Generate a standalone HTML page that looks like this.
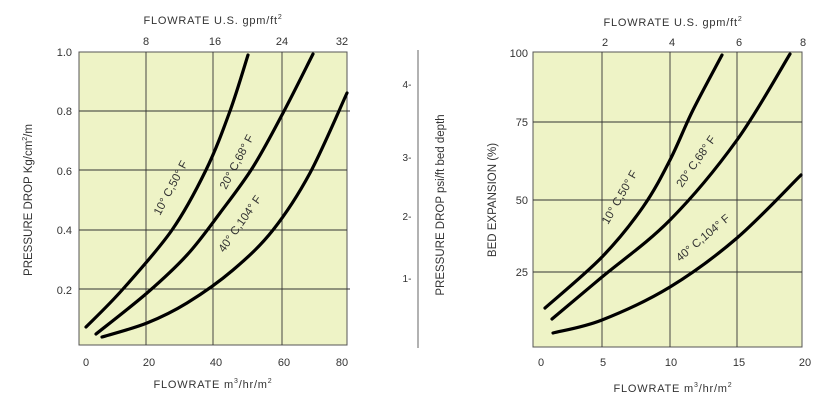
<!DOCTYPE html>
<html><head><meta charset="utf-8"><style>
html,body{margin:0;padding:0;background:#fff;}
svg{display:block;font-family:"Liberation Sans",sans-serif;}
</style></head><body>
<svg width="832" height="409" viewBox="0 0 832 409" xmlns="http://www.w3.org/2000/svg">
<g fill="#333" font-size="11">
<!-- LEFT -->
<rect x="79" y="52" width="268" height="293" fill="#eef3c6" stroke="#555" stroke-width="1"/>
<g stroke="#333" stroke-width="0.9">
<line x1="146" y1="52" x2="146" y2="345"/><line x1="213" y1="52" x2="213" y2="345"/><line x1="282" y1="52" x2="282" y2="345"/>
<line x1="79" y1="111" x2="350" y2="111"/><line x1="79" y1="170" x2="347" y2="170"/><line x1="79" y1="230" x2="347" y2="230"/><line x1="79" y1="289" x2="350" y2="289"/>
</g>
<g fill="none" stroke="#000" stroke-width="3.2" stroke-linecap="round">
<path d="M86,327 C92.2,320.7 108.7,305.2 123,289 C137.3,272.8 158.2,249.8 172,230 C185.8,210.2 196.3,189.8 206,170 C215.7,150.2 223,130.2 230,111 C237,91.8 245,64.3 248,55"/>
<path d="M96,334 C104.5,327.2 131.8,306.2 147,293 C162.2,279.8 174.8,268.3 187,255 C199.2,241.7 209,227.7 220,213 C231,198.3 242.5,183.7 253,167 C263.5,150.3 273,131.8 283,113 C293,94.2 308,63.8 313,54"/>
<path d="M102,337 C109.5,334.7 132.8,328.7 147,323 C161.2,317.3 172.7,311.8 187,303 C201.3,294.2 218.7,282.2 233,270 C247.3,257.8 260.2,246.2 273,230 C285.8,213.8 297.7,195.8 310,173 C322.3,150.2 340.8,106.3 347,93"/>
</g>
<text x="213" y="24" text-anchor="middle" letter-spacing="0.8">FLOWRATE U.S. gpm/ft<tspan font-size="7" dy="-5">2</tspan></text>
<g text-anchor="middle"><text x="146" y="45">8</text><text x="215" y="45">16</text><text x="282" y="45">24</text><text x="342" y="45">32</text>
<text x="86" y="366">0</text><text x="149" y="366">20</text><text x="216" y="366">40</text><text x="284" y="366">60</text><text x="342" y="366">80</text></g>
<text x="213" y="388" text-anchor="middle" letter-spacing="0.8">FLOWRATE m<tspan font-size="7" dy="-5">3</tspan><tspan dy="5">/hr/m</tspan><tspan font-size="7" dy="-5">2</tspan></text>
<g text-anchor="end"><text x="72" y="56">1.0</text><text x="72" y="115">0.8</text><text x="72" y="175">0.6</text><text x="72" y="234">0.4</text><text x="72" y="294">0.2</text></g>
<text transform="translate(32,200) rotate(-90)" text-anchor="middle" font-size="11.5">PRESSURE DROP Kg/cm<tspan font-size="7" dy="-5">2</tspan><tspan dy="5">/m</tspan></text>
<text transform="translate(160,216) rotate(-62)" font-size="11.5">10° C,50° F</text>
<text transform="translate(226,190) rotate(-62)" font-size="11.5">20° C,68° F</text>
<text transform="translate(224,253) rotate(-55)" font-size="11.5">40° C,104° F</text>
<!-- MIDDLE -->
<line x1="418" y1="50" x2="418" y2="348" stroke="#666" stroke-width="1"/>
<g text-anchor="middle" font-size="10"><text x="407" y="88">4-</text><text x="407" y="161">3-</text><text x="407" y="220">2-</text><text x="407" y="282">1-</text></g>
<text transform="translate(444,205) rotate(-90)" text-anchor="middle" font-size="11.5">PRESSURE DROP psi/ft bed depth</text>
<!-- RIGHT -->
<rect x="533" y="52" width="269" height="295" fill="#eef3c6" stroke="#555" stroke-width="1"/>
<g stroke="#333" stroke-width="0.9">
<line x1="602" y1="52" x2="602" y2="347"/><line x1="670" y1="52" x2="670" y2="347"/><line x1="737" y1="52" x2="737" y2="347"/>
<line x1="533" y1="122" x2="802" y2="122"/><line x1="533" y1="200" x2="802" y2="200"/><line x1="533" y1="272" x2="802" y2="272"/>
</g>
<g fill="none" stroke="#000" stroke-width="3.2" stroke-linecap="round">
<path d="M545,308 C554.5,299.5 585.7,273.8 602,257 C618.3,240.2 631.7,223.2 643,207 C654.3,190.8 661.7,176.2 670,160 C678.3,143.8 684.3,127.5 693,110 C701.7,92.5 717.2,64.2 722,55"/>
<path d="M552,319 C560.3,312 582.3,293.5 602,277 C621.7,260.5 647.5,242.8 670,220 C692.5,197.2 717,167.7 737,140 C757,112.3 781.2,68.3 790,54"/>
<path d="M553,333 C561.2,330.8 582.5,327.7 602,320 C621.5,312.3 647.5,300.7 670,287 C692.5,273.3 715.2,256.7 737,238 C758.8,219.3 790.3,185.5 801,175"/>
</g>
<text x="673" y="26" text-anchor="middle" letter-spacing="0.8">FLOWRATE U.S. gpm/ft<tspan font-size="7" dy="-5">2</tspan></text>
<g text-anchor="middle"><text x="605" y="46">2</text><text x="672" y="46">4</text><text x="739" y="46">6</text><text x="803" y="46">8</text>
<text x="541" y="366">0</text><text x="603" y="366">5</text><text x="671" y="366">10</text><text x="739" y="366">15</text><text x="805" y="366">20</text></g>
<text x="673" y="392" text-anchor="middle" letter-spacing="0.8">FLOWRATE m<tspan font-size="7" dy="-5">3</tspan><tspan dy="5">/hr/m</tspan><tspan font-size="7" dy="-5">2</tspan></text>
<g text-anchor="end"><text x="528" y="57">100</text><text x="528" y="126">75</text><text x="528" y="204">50</text><text x="528" y="276">25</text></g>
<text transform="translate(496,200) rotate(-90)" text-anchor="middle" font-size="11.5">BED EXPANSION (%)</text>
<text transform="translate(608,225) rotate(-60)" font-size="11.5">10° C,50° F</text>
<text transform="translate(682,188) rotate(-55)" font-size="11.5">20° C,68° F</text>
<text transform="translate(680,262) rotate(-40)" font-size="11.5">40° C,104° F</text>
</g>
</svg>
</body></html>
